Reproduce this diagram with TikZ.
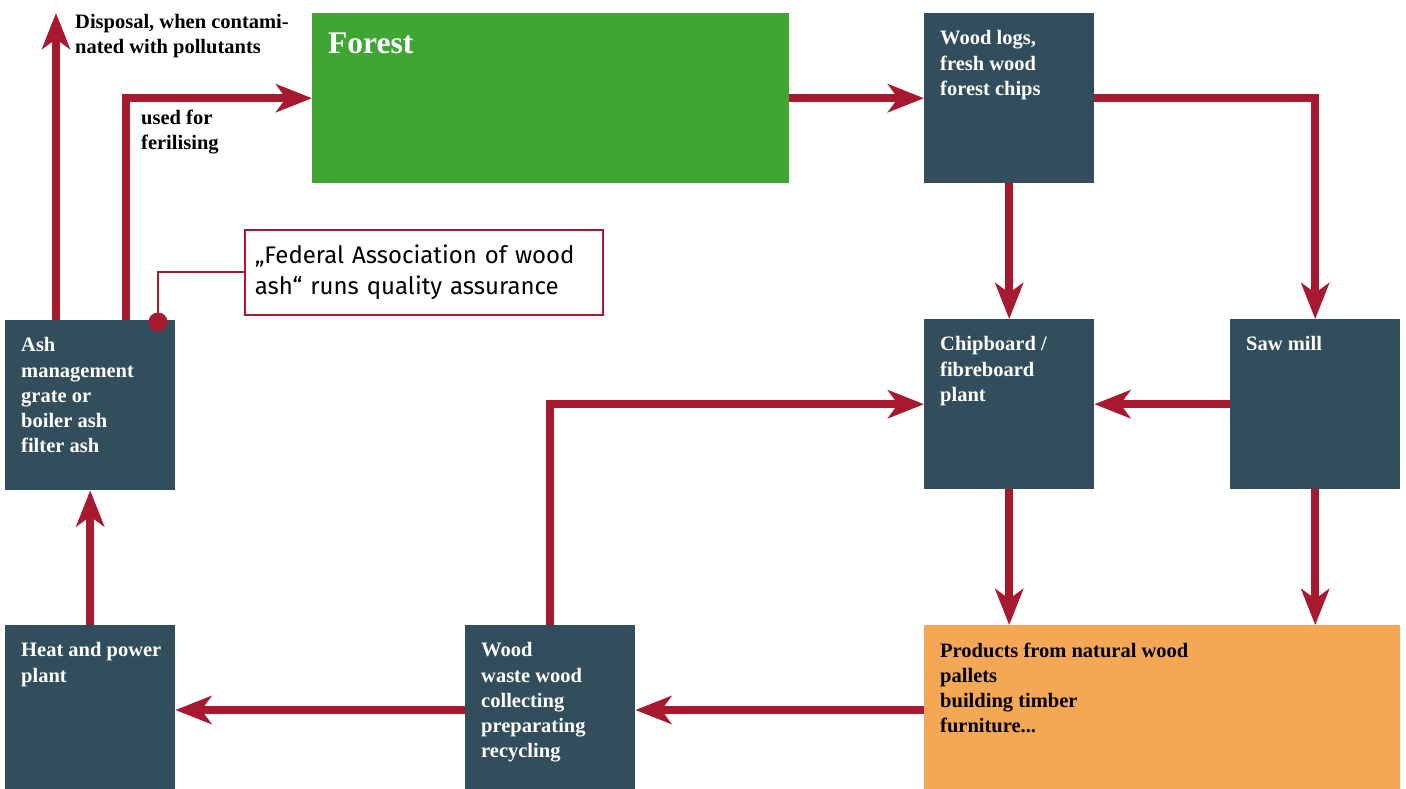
\documentclass[tikz,border=0pt]{standalone}
\usepackage{fontspec}
\setmainfont{Liberation Serif}
\newfontfamily\callfont{Fira Sans}
\usetikzlibrary{arrows.meta}
\definecolor{slate}{HTML}{324D5C}
\definecolor{wred}{HTML}{A6192E}
\definecolor{fgreen}{HTML}{3FA535}
\definecolor{porange}{HTML}{F4A755}
\begin{document}
\begin{tikzpicture}[x=1pt,y=-1pt,
  box/.style={draw=none, fill=slate, minimum width=170pt, minimum height=170pt, inner sep=0pt, anchor=north west},
  tx/.style={anchor=north west, inner sep=0pt, align=left, text=white, font=\bfseries\fontsize{20.5}{25.2}\selectfont},
  lbl/.style={tx, text=black},
  arr/.style={draw=wred, line width=8.5pt, -{Stealth[length=36pt,width=28pt,inset=10pt]}},
  thinred/.style={draw=wred, line width=2pt}
]
\useasboundingbox (0,0) rectangle (1406,789);
% boxes
\node[box, fill=fgreen, minimum width=477pt] (forest) at (312,13) {};
\node[box] (logs) at (924,13) {};
\node[box] (chip) at (924,319) {};
\node[box] (saw) at (1230,319) {};
\node[box] (ash) at (5,320) {};
\node[box, minimum height=164pt] (heat) at (5,625) {};
\node[box, minimum height=164pt] (waste) at (465,625) {};
\node[box, fill=porange, minimum width=476pt, minimum height=164pt] (prod) at (924,625) {};
% texts
\node[tx, font=\bfseries\fontsize{31.5}{37}\selectfont] (tforest) at ([shift={(16,20)}]forest.north west) {Forest};
\node[tx] (tlogs) at ([shift={(16,17.5)}]logs.north west) {Wood logs,\\fresh wood\\forest chips};
\node[tx] (tchip) at ([shift={(16,17.5)}]chip.north west) {Chipboard /\\fibreboard\\plant};
\node[tx] (tsaw) at ([shift={(16,17.5)}]saw.north west) {Saw mill};
\node[tx] (tash) at ([shift={(16,17.5)}]ash.north west) {Ash\\management\\grate or\\boiler ash\\filter ash};
\node[tx] (theat) at ([shift={(16,17.5)}]heat.north west) {Heat and power\\plant};
\node[tx] (twaste) at ([shift={(16,17.5)}]waste.north west) {Wood\\waste wood\\collecting\\preparating\\recycling};
\node[tx, text=black] (tprod) at ([shift={(16,17.5)}]prod.north west) {Products from natural wood\\pallets\\building timber\\furniture...};
% free labels
\node[lbl] (ldisp) at (75,14) {Disposal, when contami-\\nated with pollutants};
\node[lbl] (lfert) at (141,110) {used for\\ferilising};
% callout
\node[draw=wred, line width=1.5pt, anchor=north west, minimum width=358pt, minimum height=85pt, inner xsep=10pt, text width=338pt, align=left, font=\callfont\fontsize{24}{31}\selectfont] (qa) at (244,229) {„Federal Association of wood\\ash“ runs quality assurance};
\node[circle, fill=wred, minimum size=19pt, inner sep=0pt] (dot) at (158,322) {};
\draw[thinred] (dot.center) |- (qa.west);
% arrows
\coordinate (row) at (0,710);
\draw[arr] (forest.east) -- (logs.west);
\draw[arr] (logs.east) -| (saw.north);
\draw[arr] (logs.south) -- (chip.north);
\draw[arr] (saw.west) -- (chip.east);
\draw[arr] (chip.south) -- (chip.south |- prod.north);
\draw[arr] (saw.south) -- (saw.south |- prod.north);
\draw[arr] (prod.west |- row) -- (waste.east |- row);
\draw[arr] (waste.west |- row) -- (heat.east |- row);
\draw[arr] (waste.north) |- (chip.west);
\draw[arr] (heat.north) -- (ash.south);
\coordinate (disp) at (56,13);
\coordinate (fert) at ([xshift=121pt]ash.north west);
\draw[arr] (disp |- ash.north) -- (disp);
\draw[arr] (fert) |- (forest.west);
\end{tikzpicture}
\end{document}
